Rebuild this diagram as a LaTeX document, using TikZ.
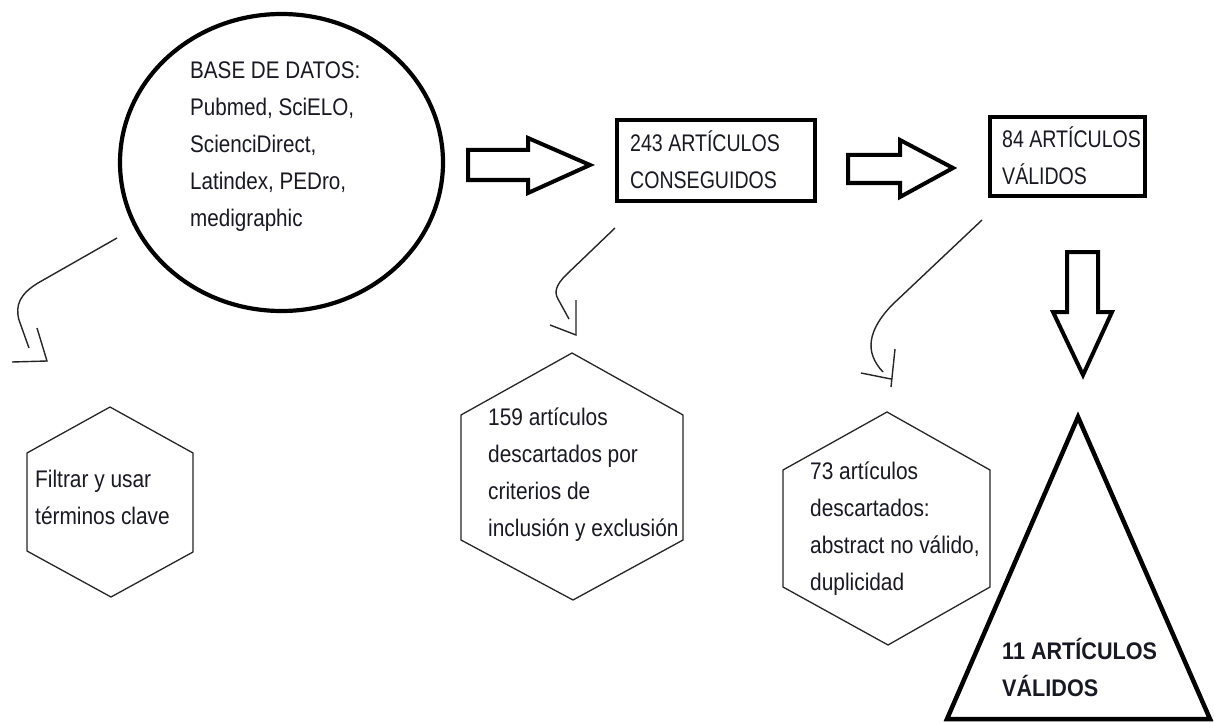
\documentclass[tikz,border=0pt]{standalone}
\usepackage{fontspec}
\setmainfont{Liberation Sans}
\newfontfamily\capsf[FakeStretch=0.815]{Liberation Sans}
\newfontfamily\mixf[FakeStretch=0.86]{Liberation Sans}
\newfontfamily\lowf[FakeStretch=0.87]{Liberation Sans}
\newfontfamily\boldf[FakeStretch=0.9]{Liberation Sans Bold}
\usetikzlibrary{shapes.geometric}
\definecolor{txt}{RGB}{25,25,35}
\begin{document}
\begin{tikzpicture}[x=1pt,y=-1pt,
  thick border/.style={draw=black,line width=4.2pt,line join=miter},
  hexline/.style={draw=black!85,line width=1.3pt},
  thin curve/.style={draw=black!85,line width=1.4pt},
  label text/.style={anchor=base west,inner sep=0pt,align=left,text=txt},
  capstext/.style={label text,font=\capsf\fontsize{24}{36}\selectfont},
  mixtext/.style={label text,font=\mixf\fontsize{24}{37}\selectfont},
  lowtext/.style={label text,font=\lowf\fontsize{24}{37}\selectfont},
  boldtext/.style={label text,font=\boldf\fontsize{24}{37}\selectfont}]
\useasboundingbox[fill=white] (0,0) rectangle (1214,722);

% database ellipse
\node[ellipse,thick border,minimum width=323pt,minimum height=297pt,inner sep=0pt] (db) at (281.5,162.5) {};
\node[mixtext] (dbtext) at (190,226) {BASE DE DATOS:\\Pubmed, SciELO,\\ScienciDirect,\\Latindex, PEDro,\\medigraphic};

% boxes
\node[thick border,rectangle,minimum width=198pt,minimum height=81pt,inner sep=0pt] (box1) at (716,160.5) {};
\node[capstext] (box1text) at (630,188) {243 ARTÍCULOS\\CONSEGUIDOS};
\node[thick border,rectangle,minimum width=155pt,minimum height=79pt,inner sep=0pt] (box2) at (1067.5,156.5) {};
\node[capstext] (box2text) at (1002,184) {84 ARTÍCULOS\\VÁLIDOS};

% block arrows
\draw[thick border,line width=4pt] (468,150) -- (528,150) -- (528,138) -- (590,165) -- (528,193) -- (528,180) -- (468,180) -- cycle;
\draw[thick border,line width=4pt] (848,155) -- (900,155) -- (900,140) -- (953,168) -- (900,197) -- (900,183) -- (848,183) -- cycle;
\draw[thick border,line width=4pt] (1067,252) -- (1098,252) -- (1098,312) -- (1112,312) -- (1083,375) -- (1053,312) -- (1067,312) -- cycle;

% triangle
\draw[thick border,line width=4.5pt] (1078,417) -- (1210,719) -- (947,719) -- cycle;
\node[boldtext] (tritext) at (1002,696) {11 ARTÍCULOS\\VÁLIDOS};

% hexagons
\draw[hexline] (110,407) -- (193,453) -- (193,552) -- (111,597) -- (27,551) -- (27,453) -- cycle;
\node[lowtext] (hex1text) at (35,524) {Filtrar y usar\\términos clave};
\draw[hexline] (572,353) -- (683,415) -- (683,540) -- (573,600) -- (461,540) -- (461,415) -- cycle;
\node[lowtext] (hex2text) at (488,536) {159 artículos\\descartados por\\criterios de\\inclusión y exclusión};
\draw[hexline] (887,412) -- (990,470) -- (990,587) -- (888,645) -- (783,587) -- (783,470) -- cycle;
\node[lowtext] (hex3text) at (810,590) {73 artículos\\descartados:\\abstract no válido,\\duplicidad};

% thin curved arrows
\coordinate (c1s) at (117,238);
\coordinate (c1e) at (29,348);
\coordinate (h1a) at (37,328);
\coordinate (h1b) at (47,361);
\coordinate (h1c) at (12,362);
\draw[thin curve] (c1s) -- (38,283) .. controls (20,294) and (15,305) .. (19,320) -- (c1e);
\draw[thin curve] (h1a) -- (h1b) -- (h1c);

\coordinate (c2s) at (615,228);
\coordinate (c2e) at (569,319);
\coordinate (h2a) at (576,300);
\coordinate (h2b) at (576,335);
\coordinate (h2c) at (550,325);
\draw[thin curve] (c2s) -- (566,275) .. controls (556,285) and (554,292) .. (558,299) -- (c2e);
\draw[thin curve] (h2a) -- (h2b) -- (h2c);

\coordinate (c3s) at (982,220);
\coordinate (c3e) at (883,372);
\coordinate (h3a) at (895,349);
\coordinate (h3b) at (891,387);
\coordinate (h3c) at (861,373);
\coordinate (h3d) at (891,379);
\draw[thin curve] (c3s) -- (892,305) .. controls (868,330) and (864,352) .. (c3e);
\draw[thin curve] (h3a) -- (h3b);
\draw[thin curve] (h3c) -- (h3d);
\end{tikzpicture}
\end{document}
